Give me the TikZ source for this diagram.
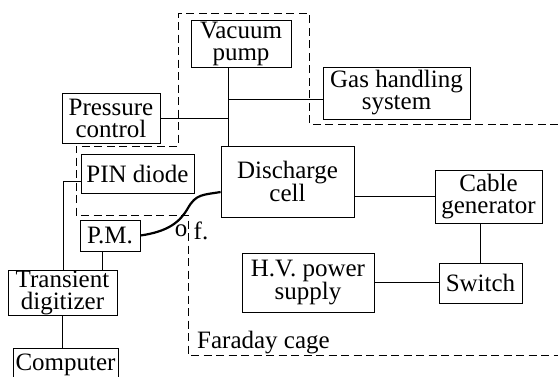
\documentclass[tikz,border=0pt]{standalone}
\usepackage{fontspec}
\setmainfont{Liberation Serif}
\usetikzlibrary{positioning,calc}
\tikzset{
  unitbox/.style={
    draw=black,
    line width=0.8pt,
    inner sep=0pt,
    align=center,
    font=\fontsize{25}{22}\selectfont
  },
  wire/.style={line width=0.7pt,draw=black},
  fiber/.style={line width=2.2pt,draw=black},
  cage/.style={line width=0.9pt,draw=black,dash pattern=on 8pt off 4.5pt},
  plainlabel/.style={inner sep=0pt,font=\fontsize{25}{22}\selectfont}
}
\begin{document}
\begin{tikzpicture}[x=1pt,y=-1pt]
\useasboundingbox (0,0) rectangle (558,376);
\clip (0,0) rectangle (558,376);
\node[unitbox,minimum width=100pt,minimum height=47pt] (vacuum) at (241,43.5) {Vacuum\\pump};
\node[unitbox,minimum width=147pt,minimum height=52pt] (gas) at (396.5,93) {Gas handling\\system};
\node[unitbox,minimum width=98pt,minimum height=50pt] (pressure) at (111,118) {Pressure\\control};
\node[unitbox,minimum width=113pt,minimum height=39pt] (pin) at (137.5,173.5) {PIN diode};
\node[unitbox,minimum width=133pt,minimum height=71pt] (cell) at (287.5,181.5) {Discharge\\cell};
\node[unitbox,minimum width=60pt,minimum height=31pt] (pm) at (110,235.5) {P.M.};
\node[unitbox,minimum width=107pt,minimum height=53pt] (cable) at (488.5,196.5) {Cable\\generator};
\node[unitbox,minimum width=83pt,minimum height=40pt] (switch) at (480.5,283) {Switch};
\node[unitbox,minimum width=132pt,minimum height=59pt] (hv) at (308,282.5) {H.V. power\\supply};
\node[unitbox,minimum width=109pt,minimum height=45pt] (transient) at (62.5,292.5) {Transient\\digitizer};
\node[unitbox,minimum width=105pt,minimum height=34pt] (computer) at (65.5,365) {Computer};
\node[plainlabel] (olabel) at (181,231) {o};
\node[plainlabel] (flabel) at (201,231) {f.};
\node[plainlabel,anchor=base west] (cagelabel) at (197,348) {Faraday cage};
% vacuum line
\coordinate (jvac) at (228,99);
\coordinate (jpres) at (228,118);
\draw[wire] (vacuum.south -| jvac) -- (cell.north -| jvac);
\draw[wire] (jvac) -- (gas.west |- jvac);
\draw[wire] (pressure.east) -- (jpres);
% detection
\coordinate (jpin) at (63,181);
\draw[wire] (pin.west |- jpin) -- (jpin) -- (transient.north -| jpin);
\draw[wire] ([xshift=-8pt]pm.south) -- ([xshift=-8pt]pm.south |- transient.north);
\draw[wire] (transient.south) -- (transient.south |- computer.north);
\draw[fiber] (pm.east) .. controls +(28,-4) and +(-8,14) .. (188,208)
  .. controls +(8,-14) and +(-18,3) .. (cell.west |- 0,192);
% pulse circuit
\draw[wire] (cable.west -| cell.east) -- (cable.west);
\draw[wire] (switch.north |- cable.south) -- (switch.north);
\draw[wire] (hv.east) -- (hv.east -| switch.west);
% Faraday cage
\draw[cage] (558,124) -- (309,124) -- (309,13) -- (178,13) -- (178,146)
  -- (76,146) -- (76,215) -- (188,215) -- (188,355) -- (558,355);
\end{tikzpicture}
\end{document}
